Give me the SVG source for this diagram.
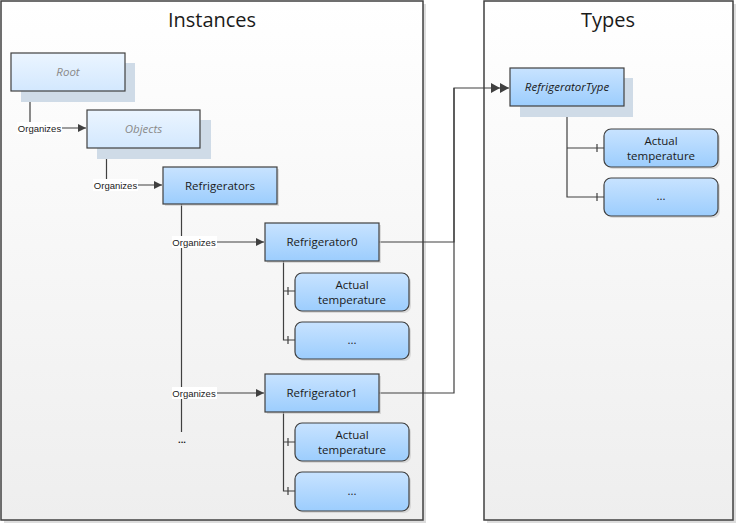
<svg xmlns="http://www.w3.org/2000/svg" width="736" height="523" viewBox="0 0 736 523">
<defs>
<linearGradient id="bg" x1="0" y1="0" x2="0" y2="1"><stop offset="0" stop-color="#ffffff"/><stop offset="1" stop-color="#eeeeee"/></linearGradient>
<linearGradient id="blue" x1="0" y1="0" x2="0" y2="1"><stop offset="0" stop-color="#c8e3ff"/><stop offset="1" stop-color="#9ccdfd"/></linearGradient>
<linearGradient id="pale" x1="0" y1="0" x2="0" y2="1"><stop offset="0" stop-color="#ebf5ff"/><stop offset="1" stop-color="#d3e8fe"/></linearGradient>
<marker id="arr" markerWidth="10" markerHeight="10" refX="9" refY="5" orient="auto" markerUnits="userSpaceOnUse"><path d="M1,1 L9,5 L1,9 Z" fill="#404040"/></marker>
<marker id="arr2" markerWidth="20" markerHeight="12" refX="18" refY="6" orient="auto" markerUnits="userSpaceOnUse"><path d="M0,1 L9,6 L0,11 Z M9,1 L18,6 L9,11 Z" fill="#404040"/></marker>
</defs>
<style>
.cont{fill:url(#bg);stroke:#404040;stroke-width:1.5}
.cshadow{fill:#dddddd}
.title{font-family:"Open Sans","Liberation Sans",sans-serif;font-size:20px;fill:#1a1a1a;text-anchor:middle}
.node{fill:url(#blue);stroke:#404040;stroke-width:1.2}
.pnode{fill:url(#pale);stroke:#404040;stroke-width:1.2}
.shadow{fill:#cfdbe7}
.sshadow{fill:#c8c8c8;opacity:0.6}
.t{font-family:"Open Sans","Liberation Sans",sans-serif;font-size:11.5px;fill:#1a1a1a;text-anchor:middle}
.gi{font-style:italic;fill:#8a8a8a}
.i{font-style:italic}
.lbl{font-family:"Liberation Sans",Arial,sans-serif;font-size:9.5px;fill:#1a1a1a;text-anchor:middle}
.lblbg{fill:#ffffff}
.c{fill:none;stroke:#404040;stroke-width:1.2}
</style>
<g id="instances">
<rect class="cshadow" x="4" y="4" width="422" height="519"/>
<rect class="cont" x="1" y="1" width="422" height="519"/>
<text class="title" x="212" y="27">Instances</text>
</g>
<g id="types">
<rect class="cshadow" x="487" y="4" width="249" height="519"/>
<rect class="cont" x="484" y="1" width="249" height="519"/>
<text class="title" x="608" y="27">Types</text>
</g>
<g id="connectors">
<path class="c" d="M30,91 V128 H86" marker-end="url(#arr)"/>
<path class="c" d="M106.5,148 V185 H162" marker-end="url(#arr)"/>
<path class="c" d="M181.5,204 V432"/>
<path class="c" d="M181.5,242 H264" marker-end="url(#arr)"/>
<path class="c" d="M181.5,393 H264" marker-end="url(#arr)"/>
<path class="c" d="M283.5,261 V340 H295 M283.5,291 H295 M288,287 V295 M288,336 V344"/>
<path class="c" d="M283.5,412 V491 H295 M283.5,442 H295 M288,438 V446 M288,487 V495"/>
<path class="c" d="M567,106 V197 H604 M567,148 H604 M597,144 V152 M597,193 V201"/>
<path class="c" d="M379,242 H454 V88"/>
<path class="c" d="M379,393 H454 V88 H509" marker-end="url(#arr2)"/>
<rect class="lblbg" x="17" y="122" width="45" height="12"/>
<text class="lbl" x="39.5" y="131.5">Organizes</text>
<rect class="lblbg" x="93" y="179" width="45" height="12"/>
<text class="lbl" x="115.5" y="188.5">Organizes</text>
<rect class="lblbg" x="172" y="236" width="45" height="12"/>
<text class="lbl" x="194" y="245.5">Organizes</text>
<rect class="lblbg" x="172" y="387" width="45" height="12"/>
<text class="lbl" x="194" y="396.5">Organizes</text>
<text class="lbl" x="182" y="443" font-weight="bold">...</text>
</g>
<g id="root">
<rect class="shadow" x="21" y="63" width="114" height="39"/>
<rect class="pnode" x="11" y="53" width="114" height="38"/>
<text class="t gi" x="68" y="76">Root</text>
</g>
<g id="objects">
<rect class="shadow" x="97" y="120" width="114" height="39"/>
<rect class="pnode" x="87" y="110" width="113" height="38"/>
<text class="t gi" x="143.5" y="133">Objects</text>
</g>
<g id="refrigerators">
<rect class="sshadow" x="165" y="169" width="114" height="37"/>
<rect class="node" x="163" y="167" width="114" height="37"/>
<text class="t" x="220" y="190">Refrigerators</text>
</g>
<g id="refrigerator0">
<rect class="sshadow" x="267" y="225" width="114" height="38"/>
<rect class="node" x="265" y="223" width="114" height="38"/>
<text class="t" x="322" y="246">Refrigerator0</text>
</g>
<g id="r0-temp">
<rect class="sshadow" x="297" y="275" width="114" height="38" rx="7"/>
<rect class="node" x="295" y="273" width="114" height="38" rx="7"/>
<text class="t" x="352" y="288.5">Actual</text>
<text class="t" x="352" y="304">temperature</text>
</g>
<g id="r0-more">
<rect class="sshadow" x="297" y="324" width="114" height="37" rx="7"/>
<rect class="node" x="295" y="322" width="114" height="37" rx="7"/>
<text class="t" x="352" y="344">...</text>
</g>
<g id="refrigerator1">
<rect class="sshadow" x="267" y="376" width="114" height="38"/>
<rect class="node" x="265" y="374" width="114" height="38"/>
<text class="t" x="322" y="397">Refrigerator1</text>
</g>
<g id="r1-temp">
<rect class="sshadow" x="297" y="425" width="114" height="38" rx="7"/>
<rect class="node" x="295" y="423" width="114" height="38" rx="7"/>
<text class="t" x="352" y="438.5">Actual</text>
<text class="t" x="352" y="454">temperature</text>
</g>
<g id="r1-more">
<rect class="sshadow" x="297" y="474" width="114" height="39" rx="7"/>
<rect class="node" x="295" y="472" width="114" height="39" rx="7"/>
<text class="t" x="352" y="495">...</text>
</g>
<g id="refrigeratortype">
<rect class="shadow" x="520" y="78" width="113" height="39"/>
<rect class="node" x="510" y="68" width="114" height="38"/>
<text class="t i" x="567" y="91">RefrigeratorType</text>
</g>
<g id="type-temp">
<rect class="sshadow" x="606" y="131" width="114" height="38" rx="7"/>
<rect class="node" x="604" y="129" width="114" height="38" rx="7"/>
<text class="t" x="661" y="144.5">Actual</text>
<text class="t" x="661" y="160">temperature</text>
</g>
<g id="type-more">
<rect class="sshadow" x="606" y="180" width="114" height="38" rx="7"/>
<rect class="node" x="604" y="178" width="114" height="38" rx="7"/>
<text class="t" x="661" y="200">...</text>
</g>
</svg>
